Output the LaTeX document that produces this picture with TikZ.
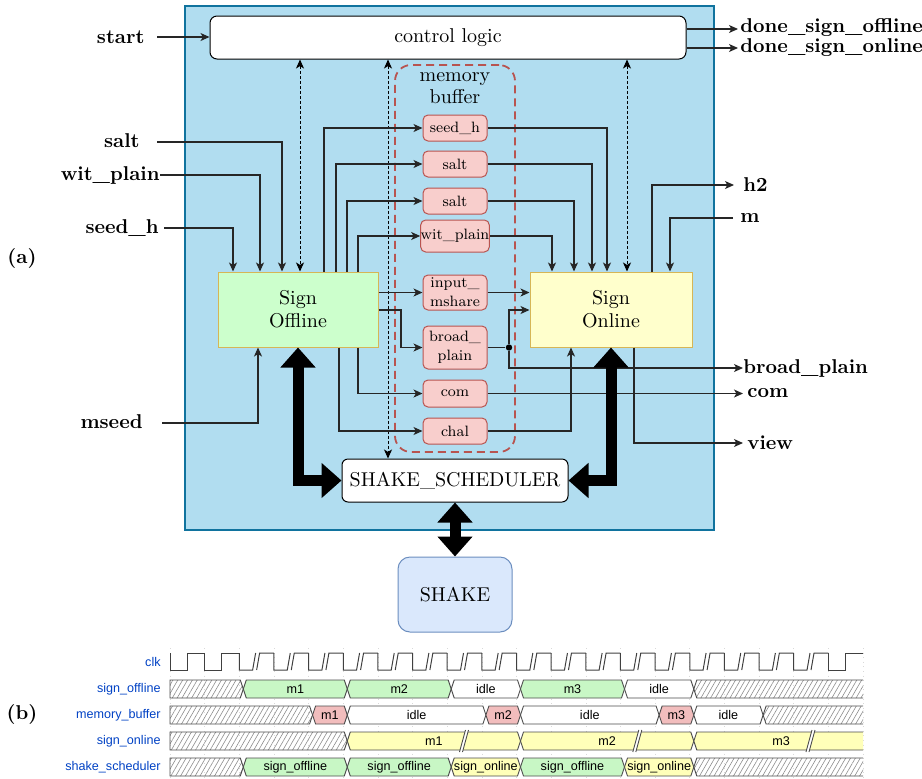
\documentclass[tikz,border=0pt]{standalone}
\usepackage{fontspec}
\newfontfamily\wavefont{Liberation Sans}
\usetikzlibrary{arrows.meta,patterns.meta}

\definecolor{sysfill}{HTML}{B1DDF0}
\definecolor{sysline}{HTML}{10739E}
\definecolor{offfill}{HTML}{CCFFCC}
\definecolor{onfill}{HTML}{FFFFCC}
\definecolor{unitline}{HTML}{D6B656}
\definecolor{memfill}{HTML}{F8CECC}
\definecolor{memline}{HTML}{B85450}
\definecolor{shakefill}{HTML}{DAE8FC}
\definecolor{shakeline}{HTML}{6C8EBF}
\definecolor{wavelabel}{HTML}{0041C4}
\definecolor{wgreen}{HTML}{C8F7C5}
\definecolor{wpink}{HTML}{F2BDBD}
\definecolor{wyellow}{HTML}{FFFFB9}

\tikzset{
  >={Stealth[length=4.5pt,width=4pt,inset=1.2pt]},
  wire/.style={draw=black!85, line width=0.6pt},
  arr/.style={wire, ->},
  ctlarr/.style={draw=black, line width=0.5pt, dash pattern=on 1.5pt off 1pt, <->},
  bus/.style={line width=5.5pt, line join=miter,
    arrows={Triangle[length=10pt,width=17pt]-Triangle[length=10pt,width=17pt]}},
  blockbox/.style={draw=unitline, line width=0.5pt, inner sep=0pt, align=center,
    minimum height=37.5pt, font=\fontsize{10}{11.5}\selectfont},
  memcell/.style={draw=memline, fill=memfill, rounded corners=2.5pt, line width=0.5pt,
    minimum width=32pt, inner sep=0pt, align=center, font=\fontsize{7.5}{9.5}\selectfont},
  port/.style={font=\bfseries, inner sep=0pt},
  wlabel/.style={font=\wavefont\fontsize{6.3}{7}\selectfont, text=wavelabel, anchor=east, inner sep=0pt},
  wtext/.style={font=\wavefont\fontsize{6.3}{7}\selectfont, inner sep=0pt},
  busline/.style={draw=black!70, line width=0.45pt},
  clockline/.style={draw=black!75, line width=0.5pt},
  hatch/.style={pattern={Lines[angle=60,distance=2.1pt,line width=0.3pt]}, pattern color=black!45},
}

% one bus value: #1 left, #2 right, #3 row centre, #4 fill, #5 name, #6 text
\newcommand\wcell[6]{%
  \path[busline, fill=#4] (#1,#3) -- ({#1+3},{#3-9}) -- ({#2-3},{#3-9}) -- (#2,#3)
    -- ({#2-3},{#3+9}) -- ({#1+3},{#3+9}) -- cycle;
  \node[wtext] (#5) at ({(#1+#2)/2},#3) {#6};}
% undefined value at the start of a row
\newcommand\wstartx[2]{%
  \path[busline, hatch] (170,{#2-9}) -- ({#1-3},{#2-9}) -- (#1,#2) -- ({#1-3},{#2+9})
    -- (170,{#2+9}) -- cycle;}
% undefined value at the end of a row
\newcommand\wendx[2]{%
  \fill[hatch] (#1,#2) -- ({#1+3},{#2-9}) -- (863,{#2-9}) -- (863,{#2+9}) -- ({#1+3},{#2+9}) -- cycle;
  \draw[busline] (863,{#2-9}) -- ({#1+3},{#2-9}) -- (#1,#2) -- ({#1+3},{#2+9}) -- (863,{#2+9});}
% time break mark on a bus
\newcommand\wgap[2]{%
  \fill[white] ({#1-5},{#2+11}) -- ({#1+1},{#2-11}) -- ({#1+4},{#2-11}) -- ({#1-2},{#2+11}) -- cycle;
  \draw[busline] ({#1-5},{#2+11}) -- ({#1+1},{#2-11});
  \draw[busline] ({#1-2},{#2+11}) -- ({#1+4},{#2-11});}

\begin{document}
\begin{tikzpicture}[x=0.5pt, y=-0.5pt]
\useasboundingbox (0,0) rectangle (922,778);

% ---------- (a) block diagram ----------
\node[draw=sysline, fill=sysfill, line width=0.6pt, minimum width=264.5pt, minimum height=262pt,
  inner sep=0pt] (sys) at (449.5,268) {};

\node[draw=black, fill=white, rounded corners=3.5pt, line width=0.5pt, minimum width=238pt,
  minimum height=21.5pt, inner sep=0pt, font=\fontsize{10}{12}\selectfont] (ctrl) at (448,37.5) {control logic};

\node[draw=memline, line width=0.9pt, dash pattern=on 4pt off 2.5pt, rounded corners=8pt,
  minimum width=60pt, minimum height=193.5pt, inner sep=0pt] (buf) at (455,258.5) {};
\node[align=center, inner sep=0pt, font=\fontsize{10}{11}\selectfont] (buflabel) at (455,88) {memory\\buffer};

\node[blockbox, fill=offfill, minimum width=80pt] (off) at (298,309.5) {Sign\\Offline};
\node[blockbox, fill=onfill, minimum width=81pt] (on) at (611,309.5) {Sign\\Online};

\node[memcell, minimum height=13pt]   (c1) at (455,128)   {seed\_h};
\node[memcell, minimum height=13pt]   (c2) at (455,164)   {salt};
\node[memcell, minimum height=13pt]   (c3) at (455,201)   {salt};
\node[memcell, minimum height=16pt]   (c4) at (455,236)   {wit\_plain};
\node[memcell, minimum height=17.5pt] (c5) at (455,292.5) {input\_\\mshare};
\node[memcell, minimum height=21.5pt] (c6) at (455,347.5) {broad\_\\plain};
\node[memcell, minimum height=13.5pt] (c7) at (455,393.5) {com};
\node[memcell, minimum height=13pt]   (c8) at (455,431)   {chal};

\node[draw=black, fill=white, rounded corners=3pt, line width=0.5pt, minimum width=113pt,
  minimum height=21.5pt, inner sep=0pt, font=\fontsize{10}{12}\selectfont] (sched) at (455,480.5) {SHAKE\_SCHEDULER};
\node[draw=shakeline, fill=shakefill, rounded corners=6pt, line width=0.5pt, minimum width=57pt,
  minimum height=37.5pt, inner sep=0pt, font=\fontsize{10}{12}\selectfont] (shake) at (455,594.5) {SHAKE};

% ports
\node[port, anchor=east] (p-start) at (145,37)  {start};
\node[port, anchor=east] (p-salt)  at (140,141) {salt};
\node[port, anchor=east] (p-wit)   at (160,175) {wit\_plain};
\node[port, anchor=east] (p-seed)  at (159,228) {seed\_h};
\node[port, anchor=east] (p-mseed) at (143,422) {mseed};
\node[port, anchor=west] (p-dso)   at (740,28)  {done\_sign\_offline};
\node[port, anchor=west] (p-dson)  at (740,48)  {done\_sign\_online};
\node[port, anchor=west] (p-h2)    at (743,185) {h2};
\node[port, anchor=west] (p-m)     at (740,218) {m};
\node[port, anchor=west] (p-bp)    at (743,368) {broad\_plain};
\node[port, anchor=west] (p-com)   at (747,393) {com};
\node[port, anchor=west] (p-view)  at (747,443) {view};
\node[port] (lab-a) at (22,258) {(a)};
\node[port] (lab-b) at (22,714) {(b)};

\coordinate (in-start) at (157,37);
\coordinate (in-salt)  at (157,142);
\coordinate (in-seed)  at (164,228);
\coordinate (in-mseed) at (162,423);
\coordinate (in-m)     at (733,218);
\coordinate (out-dso)  at (738,29);
\coordinate (out-dson) at (738,48);
\coordinate (out-h2)   at (734,185);
\coordinate (out-bp)   at (743,368);
\coordinate (out-com)  at (743,393.5);
\coordinate (out-view) at (743,443);

% control
\draw[arr] (in-start) -- (ctrl.west |- in-start);
\draw[arr] (ctrl.east |- out-dso) -- (out-dso);
\draw[arr] (ctrl.east |- out-dson) -- (out-dson);
\draw[ctlarr] (ctrl.south -| 300,0) -- (off.north -| 300,0);
\draw[ctlarr] (ctrl.south -| 388,0) -- (sched.north -| 388,0);
\draw[ctlarr] (ctrl.south -| 627,0) -- (on.north -| 627,0);

% inputs of Sign Offline
\draw[arr] (in-salt) -| (off.north -| 282,0);
\draw[arr] (p-wit.east) -| (off.north -| 260,0);
\draw[arr] (in-seed) -| (off.north -| 233,0);
\draw[arr] (in-mseed) -| (off.south -| 258,0);

% Sign Offline -> memory buffer
\draw[arr] (off.north -| 324,0) |- (c1);
\draw[arr] (off.north -| 336,0) |- (c2);
\draw[arr] (off.north -| 347,0) |- (c3);
\draw[arr] (off.north -| 358,0) |- (c4);
\draw[arr] (off.east |- c5) -- (c5);
\draw[arr] (off.east |- 0,310) -| (401,0 |- c6) -- (c6);
\draw[arr] (off.south -| 358,0) |- (c7);
\draw[arr] (off.south -| 339,0) |- (c8);

% memory buffer -> Sign Online
\draw[arr] (c1) -| (on.north -| 607,0);
\draw[arr] (c2) -| (on.north -| 592,0);
\draw[arr] (c3) -| (on.north -| 574,0);
\draw[arr] (c4) -| (on.north -| 552,0);
\draw[arr] (c5) -- (on.west |- c5);
\node[circle, fill=black, inner sep=0pt, minimum size=3.2pt] (jn) at (509,347.5) {};
\draw[wire] (c6) -- (jn);
\draw[arr] (jn) |- (on.west |- 0,310);
\draw[arr] (jn) |- (out-bp);
\draw[arr] (c7) -- (out-com);
\draw[arr] (c8) -| (on.south -| 571,0);

% Sign Online ports
\draw[arr] (on.north -| 652,0) |- (out-h2);
\draw[arr] (in-m) -| (on.north -| 670,0);
\draw[arr] (on.south -| 634,0) |- (out-view);

% hash interface
\draw[bus] (off.south) |- (sched.west);
\draw[bus] (on.south) |- (sched.east);
\draw[bus] (sched.south) -- (shake.north);

% ---------- (b) timing ----------
\foreach \k in {0,...,20} {
  \pgfmathsetmacro\gx{170+34.65*\k}
  \draw[black!15, dotted, line width=0.3pt] (\gx,648) -- (\gx,778);
}

\node[wlabel] (w-clk) at (161,662) {clk};
\node[wlabel] (w-off) at (161,689) {sign\_offline};
\node[wlabel] (w-mem) at (161,715) {memory\_buffer};
\node[wlabel] (w-on)  at (161,741) {sign\_online};
\node[wlabel] (w-sch) at (161,767) {shake\_scheduler};

% clock
\foreach \k in {0,1,19} {
  \pgfmathsetmacro\xa{170+34.65*\k}
  \pgfmathsetmacro\xr{\xa+17.325}
  \pgfmathsetmacro\xb{\xa+34.65}
  \draw[clockline] (\xa,653) -- (\xa,670) -- (\xr,670) -- (\xr,653) -- (\xb,653);
}
\foreach \k in {2,...,18} {
  \pgfmathsetmacro\xa{170+34.65*\k}
  \pgfmathsetmacro\xr{\xa+17.325}
  \pgfmathsetmacro\xb{\xa+34.65}
  \draw[clockline] (\xa,653) -- (\xa,670) -- ({\xr-4},670) -- ({\xr-1},653);
  \draw[clockline] (\xr,670) -- ({\xr+3},653) -- (\xb,653);
}

% sign_offline
\wstartx{243.3}{689}
\wcell{243.3}{347.3}{689}{wgreen}{so1}{m1}
\wcell{347.3}{451.2}{689}{wgreen}{so2}{m2}
\wcell{451.2}{520.5}{689}{white}{so3}{idle}
\wcell{520.5}{624.5}{689}{wgreen}{so4}{m3}
\wcell{624.5}{693.8}{689}{white}{so5}{idle}
\wendx{693.8}{689}

% memory_buffer
\wstartx{312.6}{715}
\wcell{312.6}{347.3}{715}{wpink}{mb1}{m1}
\wcell{347.3}{485.9}{715}{white}{mb2}{idle}
\wcell{485.9}{520.5}{715}{wpink}{mb3}{m2}
\wcell{520.5}{659.1}{715}{white}{mb4}{idle}
\wcell{659.1}{693.8}{715}{wpink}{mb5}{m3}
\wcell{693.8}{763.1}{715}{white}{mb6}{idle}
\wendx{763.1}{715}

% sign_online
\wstartx{347.3}{741}
\wcell{347.3}{520.5}{741}{wyellow}{sn1}{m1}
\wcell{520.5}{693.8}{741}{wyellow}{sn2}{m2}
\fill[wyellow] (693.8,741) -- (696.8,732) -- (863,732) -- (863,750) -- (696.8,750) -- cycle;
\draw[busline] (863,732) -- (696.8,732) -- (693.8,741) -- (696.8,750) -- (863,750);
\node[wtext] (sn3) at (781,741) {m3};
\wgap{464.5}{741}
\wgap{637.8}{741}
\wgap{811}{741}

% shake_scheduler
\wstartx{243.3}{767}
\wcell{243.3}{347.3}{767}{wgreen}{ss1}{sign\_offline}
\wcell{347.3}{451.2}{767}{wgreen}{ss2}{sign\_offline}
\wcell{451.2}{520.5}{767}{wyellow}{ss3}{sign\_online}
\wcell{520.5}{624.5}{767}{wgreen}{ss4}{sign\_offline}
\wcell{624.5}{693.8}{767}{wyellow}{ss5}{sign\_online}
\wendx{693.8}{767}
\end{tikzpicture}
\end{document}
